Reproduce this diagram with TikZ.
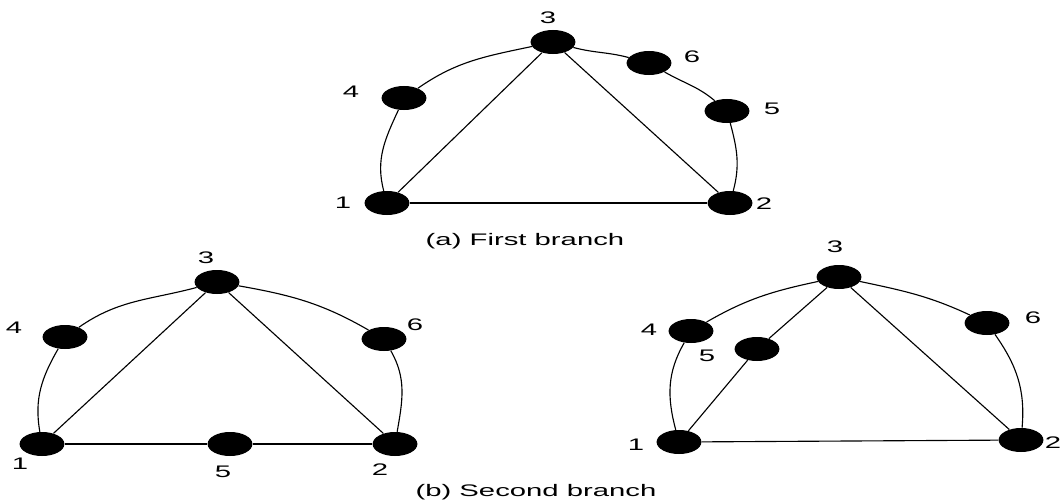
\documentclass[tikz,border=0pt]{standalone}
\usepackage{fontspec}
\setmainfont{Liberation Sans}
\usetikzlibrary{shapes.geometric}
\tikzset{
    dot/.style={ellipse, fill=black, inner sep=0pt, minimum width=1.12cm, minimum height=0.6cm},
    num/.style={font=\fontsize{11.9}{14}\selectfont, xscale=1.75, inner sep=0pt},
    link/.style={line width=0.8pt}
}
\begin{document}
\begin{tikzpicture}[x=0.025cm, y=0.025cm]
    \useasboundingbox (0,0) rectangle (1062,502);
    % (a) first branch
    \node[dot] (a1) at (387,299) {};
    \node[dot] (a2) at (730,299) {};
    \node[dot] (a3) at (553,460) {};
    \node[dot] (a4) at (404,404) {};
    \node[dot] (a5) at (727,391) {};
    \node[dot] (a6) at (649,439) {};
    \node[num] (la1) at (343,299) {1};
    \node[num] (la2) at (764,298) {2};
    \node[num] (la3) at (548,484) {3};
    \node[num] (la4) at (351,410) {4};
    \node[num] (la5) at (772,393) {5};
    \node[num] (la6) at (692,445) {6};

    \draw[link] (a1) -- (a2);
    \draw[link] (a1) -- (a3);
    \draw[link] (a3) -- (a2);
    \draw[link] (a1) to[out=105,in=245] (a4);
    \draw[link] (a4) to[out=35,in=192] (a3);
    \draw[link] (a3) to[out=-15,in=165] (a6);
    \draw[link] (a6) to[out=-30,in=140] (a5);
    \draw[link] (a5) to[out=-75,in=75] (a2);
    \node[num] (capa) at (525,261) {(a) First branch};

    % (b) second branch, left
    \node[dot] (b1) at (42,58) {};
    \node[dot] (b2) at (395,58) {};
    \node[dot] (b3) at (217,220) {};
    \node[dot] (b4) at (65,165) {};
    \node[dot] (b5) at (230,58) {};
    \node[dot] (b6) at (384,163) {};
    \node[num] (lb1) at (20,38) {1};
    \node[num] (lb2) at (380,32) {2};
    \node[num] (lb3) at (206,244) {3};
    \node[num] (lb4) at (14,174) {4};
    \node[num] (lb5) at (223,30) {5};
    \node[num] (lb6) at (415,177) {6};

    \draw[link] (b1) -- (b5);
    \draw[link] (b5) -- (b2);
    \draw[link] (b1) -- (b3);
    \draw[link] (b3) -- (b2);
    \draw[link] (b1) to[out=100,in=240] (b4);
    \draw[link] (b4) to[out=35,in=195] (b3);
    \draw[link] (b3) to[out=-10,in=150] (b6);
    \draw[link] (b6) to[out=-60,in=80] (b2);

    % (b) second branch, right
    \node[dot] (c1) at (679,60) {};
    \node[dot] (c2) at (1021,62) {};
    \node[dot] (c3) at (839,225) {};
    \node[dot] (c4) at (691,171) {};
    \node[dot] (c5) at (757,153) {};
    \node[dot] (c6) at (987,179) {};
    \node[num] (lc1) at (636,57) {1};
    \node[num] (lc2) at (1053,59) {2};
    \node[num] (lc3) at (835,255) {3};
    \node[num] (lc4) at (649,172) {4};
    \node[num] (lc5) at (707,146) {5};
    \node[num] (lc6) at (1033,184) {6};

    \draw[link] (c1) -- (c2);
    \draw[link] (c1) -- (c5);
    \draw[link] (c5) -- (c3);
    \draw[link] (c3) -- (c2);
    \draw[link] (c1) to[out=105,in=240] (c4);
    \draw[link] (c4) to[out=30,in=192] (c3);
    \draw[link] (c3) to[out=-12,in=155] (c6);
    \draw[link] (c6) to[out=-55,in=85] (c2);
    \node[num] (capb) at (536,10) {(b) Second branch};
\end{tikzpicture}
\end{document}
